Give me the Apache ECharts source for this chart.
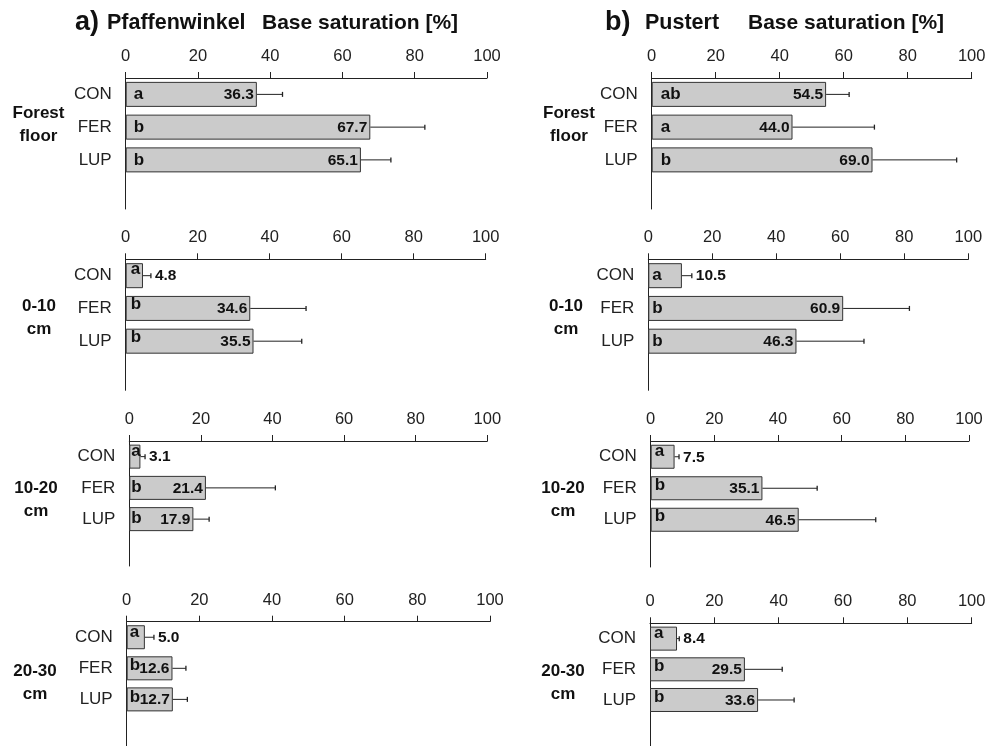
<!DOCTYPE html>
<html><head><meta charset="utf-8">
<script src="https://cdn.jsdelivr.net/npm/echarts@6/dist/echarts.min.js"></script>
<style>html,body{margin:0;padding:0;background:#fff}#c{width:990px;height:746px}</style>
</head><body><div id="c"></div><script>
// ---------- data ----------
const categories = ['CON', 'FER', 'LUP'];
const xTicks = [0, 20, 40, 60, 80, 100];
const rowLabels = ['Forest\nfloor', '0-10\ncm', '10-20\ncm', '20-30\ncm'];
const siteTags = ['a)', 'b)'];
const siteNames = ['Pfaffenwinkel', 'Pustert'];
const axisTitle = 'Base saturation [%]';

// Pfaffenwinkel
const pfForestMean = [36.3, 67.7, 65.1];
const pfForestSD = [7.1, 15.1, 8.3];
const pfForestLetters = ['a', 'b', 'b'];
const pf0to10Mean = [4.8, 34.6, 35.5];
const pf0to10SD = [2.2, 15.5, 13.4];
const pf0to10Letters = ['a', 'b', 'b'];
const pf10to20Mean = [3.1, 21.4, 17.9];
const pf10to20SD = [1.3, 19.4, 4.4];
const pf10to20Letters = ['a', 'b', 'b'];
const pf20to30Mean = [5.0, 12.6, 12.7];
const pf20to30SD = [2.5, 3.7, 4.0];
const pf20to30Letters = ['a', 'b', 'b'];

// Pustert
const puForestMean = [54.5, 44.0, 69.0];
const puForestSD = [7.2, 25.6, 26.3];
const puForestLetters = ['ab', 'a', 'b'];
const pu0to10Mean = [10.5, 60.9, 46.3];
const pu0to10SD = [3.1, 20.7, 21.1];
const pu0to10Letters = ['a', 'b', 'b'];
const pu10to20Mean = [7.5, 35.1, 46.5];
const pu10to20SD = [1.4, 17.2, 24.2];
const pu10to20Letters = ['a', 'b', 'b'];
const pu20to30Mean = [8.4, 29.5, 33.6];
const pu20to30SD = [0.7, 11.6, 11.2];
const pu20to30Letters = ['a', 'b', 'b'];

// ---------- layout (positions / styles) ----------
const FONT = '"Liberation Sans", Arial, Helvetica, sans-serif';
const panels = [
  {mean: pfForestMean, sd: pfForestSD, letters: pfForestLetters,
   left: 125.7, top: 78, width: 361.3, height: 131, bw: 25, lx: 8, ldy: [0, 0, 0]},
  {mean: pf0to10Mean, sd: pf0to10SD, letters: pf0to10Letters,
   left: 125.7, top: 259.3, width: 360, height: 131, bw: 25, lx: 5, ldy: [-6, -4, -4]},
  {mean: pf10to20Mean, sd: pf10to20SD, letters: pf10to20Letters,
   left: 129.3, top: 441, width: 358, height: 125, bw: 24, lx: 2, ldy: [-5, -1, -1]},
  {mean: pf20to30Mean, sd: pf20to30SD, letters: pf20to30Letters,
   left: 126.7, top: 621.7, width: 363.3, height: 126, bw: 24, lx: 3, ldy: [-5, -3, -2]},
  {mean: puForestMean, sd: puForestSD, letters: puForestLetters,
   left: 651.7, top: 78, width: 320, height: 131, bw: 25, lx: 9, ldy: [0, 0, 0]},
  {mean: pu0to10Mean, sd: pu0to10SD, letters: pu0to10Letters,
   left: 648.3, top: 259.3, width: 320, height: 131, bw: 25, lx: 4, ldy: [0, 0, 0]},
  {mean: pu10to20Mean, sd: pu10to20SD, letters: pu10to20Letters,
   left: 650.7, top: 441, width: 318.3, height: 126, bw: 24, lx: 4, ldy: [-5, -3, -3]},
  {mean: pu20to30Mean, sd: pu20to30SD, letters: pu20to30Letters,
   left: 650, top: 623.3, width: 321.7, height: 126, bw: 24, lx: 4, ldy: [-5, -3, -3]}
];
const rowLabelPos = [
  [[38.5, 125], [569, 125]],
  [[39, 318], [566, 318]],
  [[36, 500], [563, 500]],
  [[35, 683], [563, 683]]
];
const titlePos = [
  {tag: 75, name: 107, axis: 262},
  {tag: 605, name: 645, axis: 748}
];

const grids = [], xAxes = [], yAxes = [], series = [];

function makeRender(pl) {
  return function (params, api) {
    const i = params.dataIndex;
    const m = api.value(0), sd = api.value(2);
    const base = api.coord([0, i]);
    const end = api.coord([m, i]);
    const wEnd = api.coord([m + sd, i]);
    const y = end[1];
    const children = [
      {type: 'line', shape: {x1: end[0], y1: y, x2: wEnd[0], y2: y},
       style: {stroke: '#222', lineWidth: 1}},
      {type: 'line', shape: {x1: wEnd[0], y1: y - 2.5, x2: wEnd[0], y2: y + 2.5},
       style: {stroke: '#222', lineWidth: 1.3}},
      {type: 'text', style: {x: base[0] + pl.lx, y: y + pl.ldy[i], text: pl.letters[i],
        font: 'bold 17px ' + FONT, fill: '#111', align: 'left', verticalAlign: 'middle'}}
    ];
    const inside = (end[0] - base[0]) > 40;
    children.push({type: 'text', style: {
      x: inside ? end[0] - 3 : wEnd[0] + 4, y: y + 0.5,
      text: m.toFixed(1), font: 'bold 15.5px ' + FONT, fill: '#111',
      align: inside ? 'right' : 'left', verticalAlign: 'middle'}});
    return {type: 'group', children};
  };
}

panels.forEach((pl, k) => {
  grids.push({left: pl.left, top: pl.top, width: pl.width, height: pl.height, containLabel: false});
  xAxes.push({
    type: 'value', gridIndex: k, position: 'top', min: 0, max: 100, interval: 20,
    axisLine: {show: true, lineStyle: {color: '#222', width: 1}},
    axisTick: {show: true, length: 6, inside: false, lineStyle: {color: '#222'}},
    splitLine: {show: false},
    axisLabel: {show: true, fontSize: 16.5, fontFamily: FONT, color: '#222', margin: 13,
      formatter: v => (xTicks.indexOf(v) >= 0 ? String(v) : '')}
  });
  yAxes.push({
    type: 'category', gridIndex: k, inverse: true,
    data: categories.concat(['']),
    axisLine: {show: true, onZero: false, lineStyle: {color: '#222', width: 1}},
    axisTick: {show: false},
    axisLabel: {fontSize: 17, fontFamily: FONT, color: '#222', margin: 14}
  });
  series.push({
    type: 'bar', xAxisIndex: k, yAxisIndex: k, barWidth: pl.bw,
    data: pl.mean,
    itemStyle: {color: '#cbcbcb', borderColor: '#333', borderWidth: 1},
    silent: true, animation: false
  });
  series.push({
    type: 'custom', xAxisIndex: k, yAxisIndex: k, clip: false,
    data: pl.mean.map((m, i) => [m, i, pl.sd[i]]),
    encode: {x: 0, y: 1},
    renderItem: makeRender(pl), silent: true, animation: false, z: 5
  });
});

const graphics = [];
rowLabelPos.forEach((pair, r) => {
  pair.forEach(p => {
    graphics.push({type: 'text', x: p[0], y: p[1],
      style: {text: rowLabels[r], font: 'bold 17px ' + FONT, fill: '#111',
        align: 'center', verticalAlign: 'middle', lineHeight: 23}});
  });
});
titlePos.forEach((t, c) => {
  graphics.push({type: 'text', x: t.tag, y: 23,
    style: {text: siteTags[c], font: 'bold 27px ' + FONT, fill: '#111', align: 'left', verticalAlign: 'middle'}});
  graphics.push({type: 'text', x: t.name, y: 23,
    style: {text: siteNames[c], font: 'bold 21.5px ' + FONT, fill: '#111', align: 'left', verticalAlign: 'middle'}});
  graphics.push({type: 'text', x: t.axis, y: 23,
    style: {text: axisTitle, font: 'bold 21px ' + FONT, fill: '#111', align: 'left', verticalAlign: 'middle'}});
});

const chart = echarts.init(document.getElementById('c'), null, {renderer: 'canvas'});
chart.setOption({
  animation: false,
  backgroundColor: '#fff',
  grid: grids, xAxis: xAxes, yAxis: yAxes, series: series,
  graphic: graphics
});
</script></body></html>
